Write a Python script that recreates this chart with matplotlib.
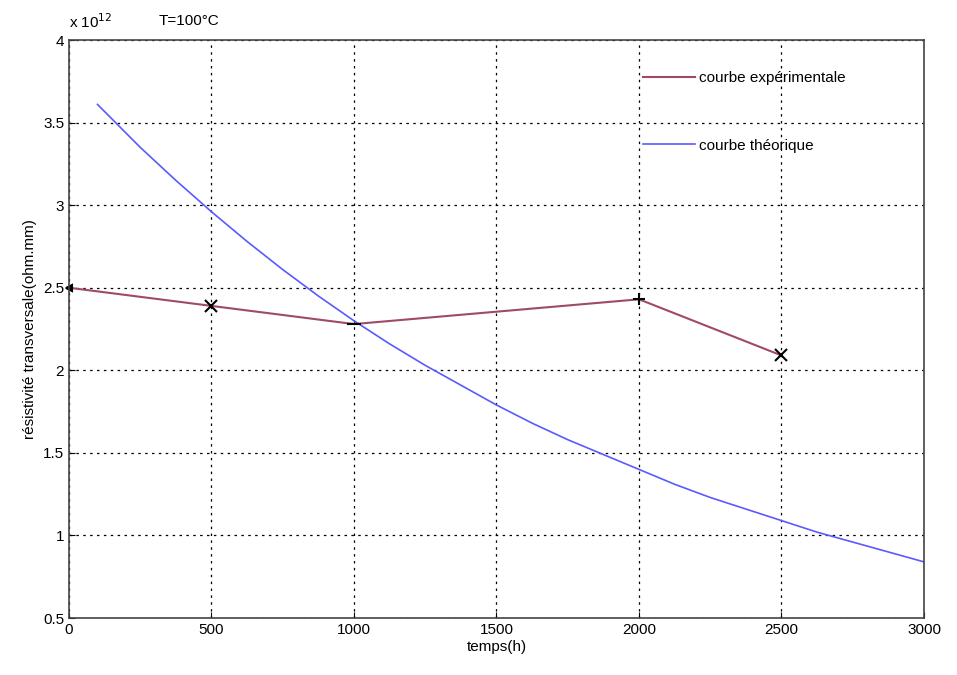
import matplotlib.pyplot as plt

# experimental data (x 1e12 ohm.mm)
t_exp = [0, 500, 1000, 2000, 2500]
rho_exp = [2.50, 2.39, 2.28, 2.43, 2.09]
markers = ['<', 'x', '_', '+', 'x']
marker_sizes = [5, 8, 10, 9, 8]

# theoretical curve (x 1e12 ohm.mm)
t_th = [100, 250, 375, 500, 625, 750, 875, 1000, 1125, 1250, 1375, 1500, 1625,
        1750, 1875, 2000, 2125, 2250, 2375, 2500, 2625, 2750, 2875, 3000]
rho_th = [3.61, 3.35, 3.15, 2.96, 2.78, 2.61, 2.45, 2.30, 2.16, 2.03, 1.91, 1.79, 1.68,
          1.58, 1.49, 1.40, 1.31, 1.23, 1.16, 1.09, 1.02, 0.96, 0.90, 0.84]

plt.rcParams['font.family'] = ['Liberation Sans', 'DejaVu Sans']

fig = plt.figure(figsize=(9.57, 6.75), dpi=100)
ax = fig.add_axes([0.0721, 0.0844, 0.8934, 0.8563])

ax.plot(t_th, rho_th, color='#5a5aff', lw=1.2, label='courbe théorique')
ax.plot(t_exp, rho_exp, color='#a04a6a', lw=1.5, label='courbe expérimentale')
for t, r, m, s in zip(t_exp, rho_exp, markers, marker_sizes):
    ax.plot(t, r, marker=m, color='black', ms=s, mew=1.5, ls='none', clip_on=False)

ax.set_xlim(0, 3000)
ax.set_ylim(0.5, 4)
ax.set_xticks(range(0, 3001, 500))
ax.set_yticks([0.5, 1, 1.5, 2, 2.5, 3, 3.5, 4])
ax.set_yticklabels(['0.5', '1', '1.5', '2', '2.5', '3', '3.5', '4'])
ax.tick_params(direction='in', labelsize=11, length=4)
ax.grid(True, color='black', linestyle=(0, (2, 3.5)), lw=0.9)
for s in ax.spines.values():
    s.set_color('#444444')
    s.set_linewidth(1.2)

ax.set_xlabel('temps(h)', fontsize=11, labelpad=2)
ax.set_ylabel('résistivité transversale(ohm.mm)', fontsize=11, labelpad=4)
ax.text(0.0, 1.015, r'x 10$^{12}$', transform=ax.transAxes, fontsize=11, va='bottom')
ax.text(0.105, 1.02, 'T=100°C', transform=ax.transAxes, fontsize=11, va='bottom')

h, l = ax.get_legend_handles_labels()
ax.legend([h[1], h[0]], [l[1], l[0]], loc='upper left', bbox_to_anchor=(0.655, 0.97),
          frameon=False, fontsize=11, handlelength=3.4, handletextpad=0.3, labelspacing=3.5)

fig.savefig('out.png', dpi=100)
